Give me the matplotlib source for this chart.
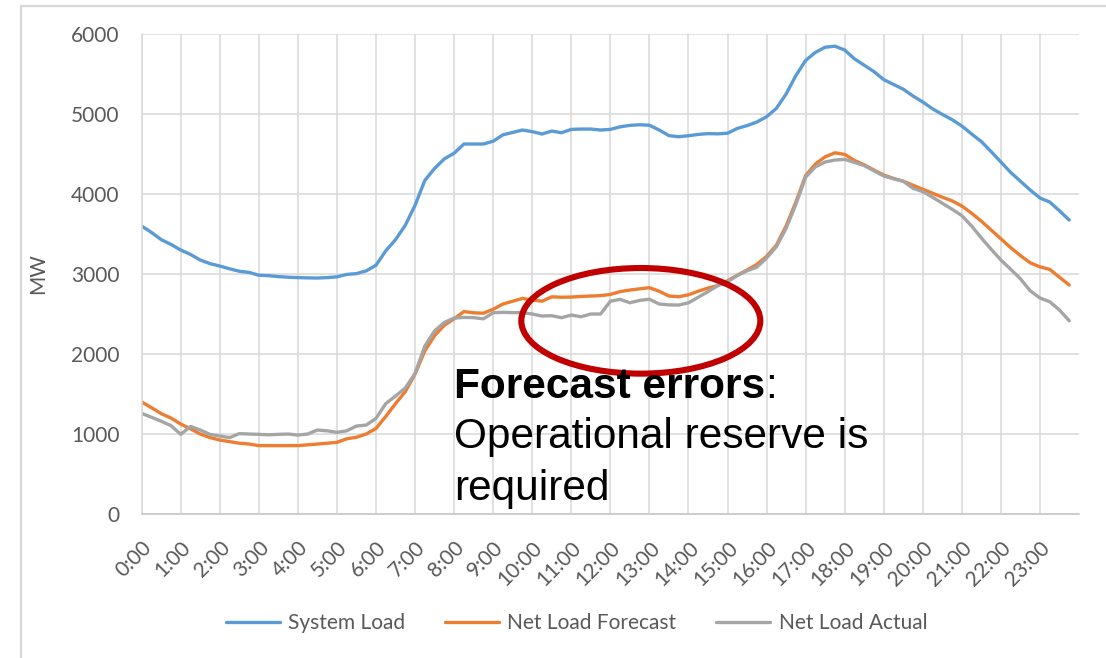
import numpy as np
import matplotlib
matplotlib.use("Agg")
from matplotlib import pyplot as plt
from matplotlib.patches import Ellipse, Rectangle

# 15-minute values, 0:00 .. 23:45 [MW]
system_load = [
    3600, 3520, 3430, 3370, 3300, 3245, 3175, 3130,
    3100, 3065, 3035, 3020, 2985, 2980, 2968, 2960,
    2955, 2952, 2950, 2955, 2965, 2995, 3005, 3040,
    3110, 3290, 3430, 3610, 3860, 4170, 4320, 4440,
    4510, 4625, 4625, 4625, 4660, 4740, 4770, 4800,
    4780, 4750, 4787, 4766, 4808, 4812, 4812, 4800,
    4808, 4840, 4858, 4866, 4860, 4800, 4730, 4716,
    4729, 4745, 4755, 4752, 4760, 4820, 4855, 4900,
    4966, 5070, 5250, 5480, 5670, 5770, 5835, 5848,
    5800, 5690, 5610, 5530, 5430, 5370, 5310, 5225,
    5150, 5065, 4995, 4930, 4850, 4750, 4655, 4530,
    4400, 4270, 4160, 4050, 3950, 3900, 3790, 3675,
]
net_load_forecast = [
    1400, 1330, 1255, 1200, 1125, 1065, 1000, 955,
    925, 905, 885, 875, 855, 855, 855, 855,
    855, 865, 875, 885, 896, 940, 960, 1000,
    1070, 1220, 1380, 1530, 1750, 2040, 2230, 2360,
    2440, 2530, 2515, 2510, 2560, 2625, 2660, 2695,
    2675, 2660, 2715, 2710, 2712, 2720, 2725, 2730,
    2745, 2780, 2800, 2815, 2829, 2785, 2725, 2716,
    2740, 2785, 2825, 2855, 2916, 2985, 3050, 3120,
    3220, 3360, 3600, 3900, 4230, 4375, 4465, 4515,
    4495, 4420, 4365, 4300, 4237, 4195, 4160, 4110,
    4060, 4010, 3960, 3915, 3850, 3760, 3660, 3550,
    3440, 3330, 3230, 3140, 3090, 3058, 2960, 2862,
]
net_load_actual = [
    1258, 1210, 1160, 1105, 996, 1095, 1050, 995,
    975, 955, 1005, 1000, 996, 990, 996, 1000,
    987, 1000, 1050, 1040, 1021, 1040, 1100, 1112,
    1196, 1380, 1475, 1575, 1758, 2100, 2290, 2395,
    2450, 2458, 2455, 2440, 2516, 2521, 2518, 2516,
    2500, 2475, 2479, 2454, 2487, 2466, 2500, 2500,
    2660, 2683, 2641, 2670, 2685, 2625, 2615, 2612,
    2640, 2710, 2780, 2855, 2904, 2980, 3041, 3085,
    3200, 3340, 3570, 3870, 4210, 4340, 4400, 4425,
    4433, 4395, 4355, 4290, 4225, 4190, 4160, 4071,
    4030, 3960, 3885, 3810, 3730, 3600, 3450, 3310,
    3175, 3060, 2940, 2790, 2700, 2654, 2550, 2416,
]
hours = np.arange(len(system_load)) * 0.25
tick_hours = list(range(24))
tick_labels = ["%d:00" % h for h in tick_hours]
y_ticks = [0, 1000, 2000, 3000, 4000, 5000, 6000]

series_names = ["System Load", "Net Load Forecast", "Net Load Actual"]
colors = ["#5b9bd5", "#ed7d31", "#a5a5a5"]

plt.rcParams['font.family'] = ['Lato', 'DejaVu Sans']
txt_gray = "#595959"

fig = plt.figure(figsize=(11.06, 6.58), dpi=100)
ax = fig.add_axes([0.1281, 0.2188, 0.8475, 0.7295])

for vals, name, c in zip([system_load, net_load_forecast, net_load_actual], series_names, colors):
    ax.plot(hours, vals, color=c, lw=2.4, label=name, solid_capstyle='round')

ax.set_xlim(0, 24)
ax.set_ylim(0, 6000)
ax.set_xticks(tick_hours)
ax.set_xticklabels(tick_labels, rotation=45, ha='right', va='top',
                   rotation_mode='anchor')
ax.set_yticks(y_ticks)
ax.tick_params(axis='both', length=0, labelsize=15, labelcolor=txt_gray)
ax.tick_params(axis='y', pad=16)
ax.tick_params(axis='x', pad=17)
ax.grid(True, color="#d9d9d9", lw=1.1)
ax.set_axisbelow(True)
for s in ['top', 'right']:
    ax.spines[s].set_visible(False)
ax.spines['left'].set_color("#d9d9d9")
ax.spines['bottom'].set_color("#c4c4c4")
ax.spines['left'].set_linewidth(1.1)
ax.spines['bottom'].set_linewidth(1.1)

ax.set_ylabel("MW", fontsize=15, color=txt_gray)
ax.yaxis.set_label_coords(-0.1, 0.5)

# red ellipse around the forecast-error zone
ell = Ellipse((12.78, 2415), width=6.12, height=1320, fill=False,
              edgecolor="#c00000", lw=4.4, zorder=4)
ax.add_patch(ell)

# annotation text
t1 = fig.text(0.4105, 0.3951, "Forecast errors", fontsize=30.5, fontweight='bold',
              family='Liberation Sans', va='baseline', ha='left', zorder=6)
fig.text(0.4105, 0.3191, "Operational reserve is", fontsize=30.5,
         family='Liberation Sans', va='baseline', ha='left', zorder=6)
fig.text(0.4105, 0.2401, "required", fontsize=30.5,
         family='Liberation Sans', va='baseline', ha='left', zorder=6)
fig.canvas.draw()
bb = t1.get_window_extent()
fig.text(bb.x1 / fig.bbox.width, 0.3951, ":", fontsize=30.5,
         family='Liberation Sans', va='baseline', ha='left', zorder=6)

leg = fig.legend(loc='center', bbox_to_anchor=(0.5213, 0.0532), ncol=3,
                 frameon=False, fontsize=15, handlelength=2.6,
                 handletextpad=0.4, columnspacing=1.9)
for t in leg.get_texts():
    t.set_color(txt_gray)
for h in leg.get_lines():
    h.set_linewidth(2.4)

# outer chart-area frame (left and top edges visible)
fig.add_artist(Rectangle((21 / 1106, -0.5), 2, 0.5 + 1 - 6 / 658,
                         transform=fig.transFigure, fill=False,
                         edgecolor="#d9d9d9", lw=1.6))

fig.savefig("out.png", dpi=100)
